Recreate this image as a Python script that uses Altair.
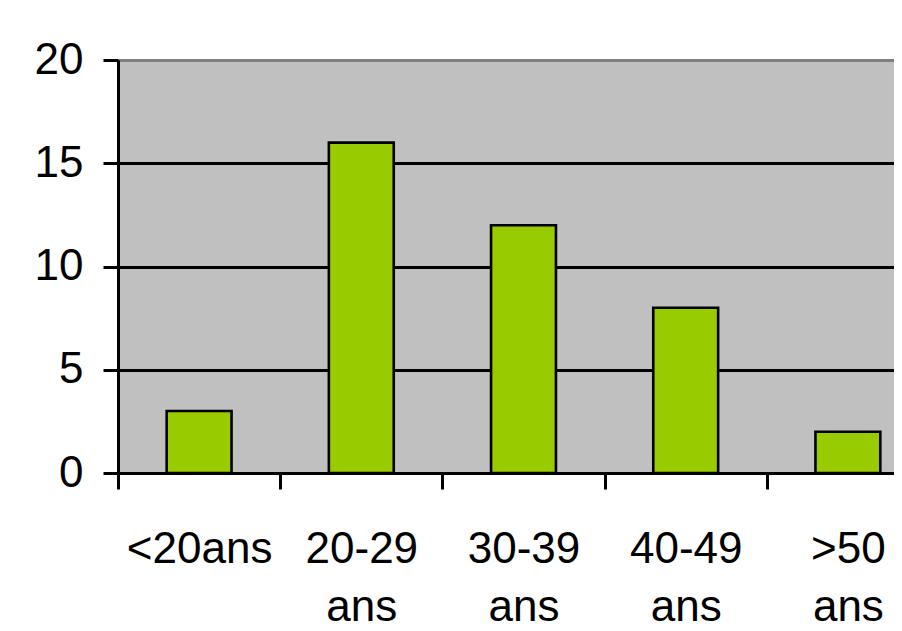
import altair as alt
import pandas as pd

categories = ["<20ans", "20-29 ans", "30-39 ans", "40-49 ans", ">50 ans"]
values = [3, 16, 12, 8, 2]
y_ticks = [0, 5, 10, 15, 20]

df = pd.DataFrame({"age": categories, "n": values})

FONT = "Liberation Sans"

chart = (
    alt.Chart(df)
    .mark_bar(color="#99CC00", stroke="black", strokeWidth=2.6,
              width=alt.RelativeBandSize(0.4))
    .encode(
        x=alt.X(
            "age:N",
            sort=categories,
            title=None,
            scale=alt.Scale(range=[0, 811], paddingInner=0, paddingOuter=0),
            axis=alt.Axis(
                labelExpr="split(datum.label, ' ')",
                labelAngle=0,
                labelFont=FONT,
                labelFontSize=44,
                labelColor="black",
                labelLineHeight=58,
                labelPadding=38,
                labelBaseline="top",
                labelOverlap=False,
                domainColor="black",
                domainWidth=3,
                tickColor="black",
                tickWidth=3,
                tickSize=16,
                tickBand="extent",
                grid=False,
            ),
        ),
        y=alt.Y(
            "n:Q",
            title=None,
            scale=alt.Scale(domain=[0, 20], nice=False),
            axis=alt.Axis(
                values=y_ticks,
                labelFont=FONT,
                labelFontSize=44,
                labelColor="black",
                labelPadding=20,
                domainColor="black",
                domainWidth=3,
                tickColor="black",
                tickWidth=3,
                tickSize=15,
                grid=True,
                gridColor=alt.condition(
                    "datum.value == 20", alt.value("#808080"), alt.value("black")
                ),
                gridWidth=3,
                gridOpacity=1,
            ),
        ),
    )
    .properties(
        width=776,
        height=413,
        autosize=alt.AutoSizeParams(type="none"),
        padding={"left": 110, "top": 52, "right": 0, "bottom": 150},
    )
    .configure_view(fill="#C0C0C0", stroke=None, strokeWidth=0)
)

chart.save("out.html", embed_options={"renderer": "svg", "actions": False})
